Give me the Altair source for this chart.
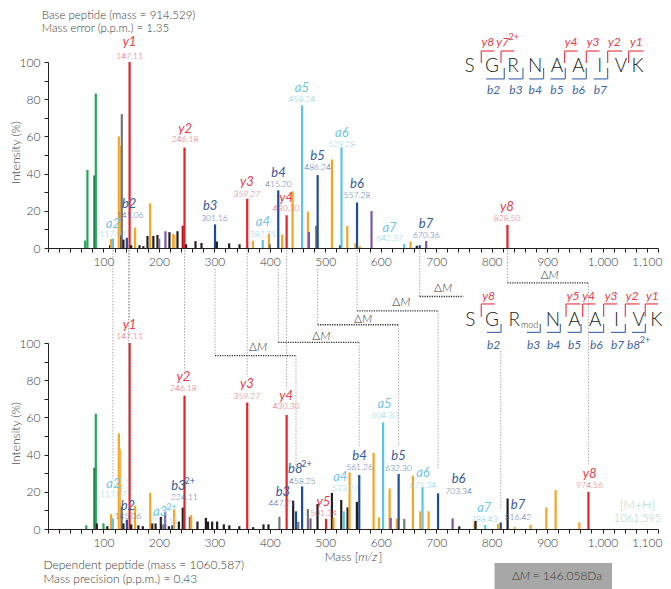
import altair as alt
import pandas as pd

FONT = "Lato"

# ---------------- peaks: base peptide (top) ----------------
top_mz = [67.0, 71.1, 83.7, 86.2, 112.0, 113.8, 117.07, 127.7, 130.0, 132.3, 133.1, 136.0, 142.2, 147.11, 150.0,
          157.1, 165.0, 172.0, 179.4, 184.2, 190.0, 197.4, 200.5, 211.8, 219.0, 225.7, 228.0, 233.5, 243.0, 246.18,
          249.0, 266.0, 276.8, 301.16, 304.5, 326.7, 345.4, 359.27, 369.5, 387.21, 398.3, 400.0, 415.20, 422.3,
          430.30, 441.0, 458.24, 468.7, 470.5, 483.7, 486.24, 512.0, 527.0, 529.28, 539.6, 554.6, 557.28, 562.0,
          583.4, 642.37, 653.8, 665.0, 670.36, 682.0, 828.50]
top_int = [4, 42, 39, 83, 1.5, 4.8, 5, 60, 55, 7, 72, 4.5, 5.5, 100, 1.5,
           11, 1.5, 1, 6.5, 24, 6.5, 7, 5, 9, 8.5, 7.5, 7, 9, 12, 54,
           2, 3.7, 2.7, 12.7, 3.5, 2.5, 2, 26.5, 3.8, 4.3, 7.8, 2, 31, 7.2,
           17.6, 30.5, 76.7, 19.6, 8.6, 12, 39.2, 47.6, 1.5, 54.1, 11.8, 2.5, 24.5, 1,
           19.9, 2.3, 3.5, 1.2, 1.5, 3.8, 12.4]
top_cls = ["gr", "gr", "dg", "gr", "bk", "or", "a", "or", "or2", "bk", "gy", "bk", "b", "y", "bk",
           "or", "bk", "bk", "bk", "or", "bk", "bk", "gy", "pu", "bk", "or", "or2", "bk", "yd", "y",
           "bk", "bk", "bk", "b", "bk", "bk", "bk", "y", "or", "a", "or", "gy", "b", "or",
           "y", "or", "a", "or", "pu", "gy", "b", "or", "bk", "a", "or", "or", "b", "or",
           "pu", "a", "or", "bk", "b", "pu", "y"]

# ---------------- peaks: dependent peptide (bottom) ----------------
bot_mz = [69.0, 83.7, 86.2, 88.0, 100.0, 107.0, 113.8, 117.07, 127.7, 130.0, 133.0, 136.0, 142.2, 147.11, 150.0,
          157.0, 163.0, 171.0, 184.3, 188.0, 194.0, 203.5, 208.0, 211.3, 218.0, 224.1, 227.5, 236.0, 243.0, 246.18,
          255.8, 258.2, 269.5, 284.7, 288.6, 296.0, 305.0, 317.0, 327.0, 345.0, 359.27, 370.0, 388.6, 397.6, 417.3,
          430.30, 442.1, 447.21, 451.2, 458.25, 468.7, 473.4, 486.0, 501.34, 512.0, 514.9, 528.8, 533.27, 540.2,
          543.8, 557.0, 561.26, 587.1, 596.8, 604.30, 616.0, 618.0, 629.0, 632.30, 642.5, 658.0, 671.3, 675.34,
          686.3, 703.34, 729.6, 741.7, 769.3, 771.0, 788.43, 811.5, 816.42, 828.8, 841.4, 870.3, 898.6, 915.4,
          958.2, 974.56]
bot_int = [2, 33, 62, 3, 3, 1.5, 8, 5.7, 51.4, 43, 12, 3, 5, 100, 2.5,
           12.5, 2, 1.5, 19.5, 3, 3, 6.5, 2.5, 9, 1.5, 2, 10.5, 4, 11.5, 71.7,
           6.5, 7.5, 4, 6, 4, 4, 4, 2.5, 2, 1.5, 68, 1, 2.5, 2.5, 6.6,
           61.3, 15.2, 9.5, 3.9, 22.9, 10.7, 5.7, 13.4, 5.4, 19.4, 6.2, 15.6, 9.5, 11.6,
           30.4, 14.6, 29, 40.9, 6.2, 57.3, 21.8, 6, 5.6, 29.6, 5.4, 28.7, 9.5, 22.4,
           9.5, 19.2, 5.7, 1.4, 3.9, 4.4, 2.2, 2.6, 3.5, 16.4, 1, 2.2, 11.6, 20.9,
           3.6, 20]
bot_cls = ["gr", "dg", "gr", "bk", "gr", "bk", "or", "a", "or", "or2", "gy", "bk", "b", "y", "bk",
           "or", "bk", "bk", "or", "bk", "bk", "bk", "gy", "pu", "bk", "b", "or", "bk", "bk", "y",
           "pu", "or", "bk", "bk", "bk", "bk", "bk", "bk", "bk", "bk", "y", "bk", "bk", "bk", "gy",
           "y", "bk", "b", "gy", "b", "gy", "pu", "bk", "y", "bk", "or", "bk", "a", "bk",
           "or", "bk", "b", "or", "or", "a", "or", "pu", "or", "b", "gy", "or", "or", "a",
           "or", "b", "pu", "bk", "or", "bk", "a", "or", "b", "bk", "or", "or", "or", "or",
           "or", "y"]

peak_classes = ["y", "yd", "b", "a", "or", "or2", "gr", "dg", "pu", "gy", "bk"]
peak_colors = ["#e3232a", "#a3191e", "#1f4c97", "#5cc4e8", "#f5a524", "#f2b552",
               "#24a55c", "#16793f", "#7b57a6", "#767676", "#231f20"]

# ---------------- fragment-ion labels ----------------
top_ions = ["y1", "y2", "a2", "b2", "b3", "y3", "a4", "b4", "y4", "a5", "b5", "a6", "b6", "a7", "b7", "y8"]
top_sup = [""] * 16
top_vals = ["147.11", "246.18", "117.07", "145.06", "301.16", "359.27", "387.21", "415.20", "430.30",
            "458.24", "486.24", "529.28", "557.28", "642.37", "670.36", "828.50"]
top_ion_x = [147.0, 247.3, 116.9, 146.3, 292.4, 358.6, 387.5, 415.6, 429.5, 457.9, 486.0, 530.0, 557.1, 615.9, 681.6, 827.7]
top_val_x = [147.0, 247.3, 116.9, 148.1, 300.2, 358.6, 387.5, 415.6, 429.5, 457.9, 486.0, 530.0, 557.1, 615.9, 682.1, 827.7]
top_ion_y = [111.0, 64.1, 13.1, 23.7, 22.7, 35.5, 14.1, 40.5, 27.0, 85.9, 49.5, 62.0, 34.2, 10.9, 13.1, 22.0]
top_val_y = [103.3, 58.6, 7.4, 17.5, 16.0, 28.9, 7.4, 34.6, 21.7, 80.3, 43.7, 56.1, 28.3, 5.2, 6.8, 16.1]

bot_ions = ["y1", "y2", "y3", "y4", "a2", "b2", "a3", "b3", "b3", "b8", "y5", "a4", "b4", "a5", "b5", "a6",
            "b6", "a7", "b7", "y8"]
bot_sup = ["", "", "", "", "", "", "2+", "2+", "", "2+", "", "", "", "", "", "", "", "", "", ""]
bot_vals = ["147.11", "246.18", "359.27", "430.30", "117.07", "145.06", "210.11", "224.11", "447.21", "458.25",
            "501.34", "533.27", "561.26", "604.30", "632.30", "675.34", "703.34", "788.43", "816.42", "974.56"]
bot_ion_x = [147.0, 244.1, 358.6, 429.5, 118.0, 144.0, 202.2, 235.2, 423.6, 445.8, 496.8, 527.0, 561.8, 606.9,
             632.1, 676.1, 740.4, 786.7, 847.5, 976.7]
bot_val_x = [147.0, 244.1, 358.6, 429.5, 118.0, 144.0, 211.0, 246.0, 421.8, 458.4, 496.8, 536.0, 561.8, 606.9,
             632.1, 676.1, 740.4, 786.7, 847.5, 976.7]
bot_ion_y = [109.8, 81.5, 78.0, 71.7, 24.2, 12.5, 8.9, 23.3, 20.1, 32.3, 14.3, 27.7, 39.4, 67.2, 39.0, 29.9,
             26.9, 11.1, 12.9, 29.6]
bot_val_y = [103.9, 75.8, 71.7, 66.1, 18.8, 7.2, 4.5, 17.0, 13.8, 26.0, 8.4, 21.8, 33.1, 61.3, 32.6, 23.8,
             20.6, 5.4, 6.6, 23.7]

ion_colors = {"y": "#e63c47", "b": "#35599f", "a": "#6fc6e8"}
val_colors = {"y": "#ee5f69", "b": "#4d6dac", "a": "#85cfec"}

# ---------------- peptide sequences ----------------
top_seq = ["S", "G", "R", "N", "A", "A", "I", "V", "K"]
top_seq_x = [760.2, 800.6, 838.5, 878.7, 917.9, 956.8, 994.7, 1033.3, 1063.3]
top_ylab = ["y8", "y7", "y4", "y3", "y2", "y1"]
top_ylab_sup = ["", "2+", "", "", "", ""]
top_ylab_x = [793.4, 819.7, 943.1, 982.8, 1021.3, 1061.0]
top_yb_v = [781.3, 816.9, 931.6, 970.7, 1009.2, 1047.0]
top_yb_end = [804.8, 840.9, 955.0, 994.7, 1035.1, 1074.1]
top_blab = ["b2", "b3", "b4", "b5", "b6", "b7"]
top_blab_x = [803.5, 843.9, 878.7, 917.9, 956.8, 996.0]
top_bb_start = [790.3, 830.6, 867.9, 905.8, 944.9, 983.9]
top_bb_v = [822.8, 856.5, 893.7, 932.8, 970.7, 1009.2]

bot_seq = ["S", "G", "R", "N", "A", "A", "I", "V", "K"]
bot_seq_x = [761.5, 800.6, 840.9, 910.7, 949.6, 987.0, 1024.9, 1065.1, 1097.0]
bot_ylab = ["y8", "y5", "y4", "y3", "y2", "y1"]
bot_ylab_x = [794.5, 946.7, 974.9, 1015.3, 1053.2, 1090.0]
bot_yb_v = [781.3, 934.1, 964.1, 1001.9, 1041.1, 1077.0]
bot_yb_end = [805.3, 959.9, 987.0, 1026.1, 1066.9, 1100.0]
bot_blab = ["b2", "b3", "b4", "b5", "b6", "b7", "b8"]
bot_blab_sup = ["", "", "", "", "", "", "2+"]
bot_blab_x = [803.5, 875.7, 911.8, 949.6, 988.8, 1027.2, 1056.1]
bot_bb_start = [791.6, 863.8, 899.9, 937.0, 974.9, 1015.3, 1053.2]
bot_bb_v = [816.9, 887.8, 923.9, 961.2, 1001.9, 1041.1, 1077.2]

# ---------------- mass-shift connectors ----------------
vline_mz = [117.07, 145.06, 147.11, 246.18, 359.27, 430.30, 301.16, 415.20, 486.24, 557.28, 670.36, 828.50,
            447.21, 561.26, 632.30, 703.34, 816.42, 974.56]
vline_from = [150, 150, 150, 150, 150, 150, 140, 140, 140, 150, 150, 150,
              93.2, 100.3, 109.8, 117.3, 95.8, 132.3]
vline_to = [27.0, 17.9, 112.5, 85.1, 81.9, 75.4, 93.2, 100.3, 109.8, 117.3, 125.0, 132.3,
            32.4, 44.8, 44.8, 32.4, 10.9, 34.0]
hline_y = [93.2, 100.3, 109.8, 117.3, 125.0, 132.3]
hline_from = [301.16, 415.20, 486.24, 557.28, 670.36, 828.50]
hline_to = [447.21, 561.26, 632.30, 703.34, 748.9, 974.56]
dm_x = [376.7, 490.9, 566.1, 635.2, 710.4, 902.7]
dm_y = [97.6, 103.9, 112.9, 121.8, 129.6, 136.4]

assert len(top_mz) == len(top_int) == len(top_cls)
assert len(bot_mz) == len(bot_int) == len(bot_cls)

XS = alt.Scale(domain=[0, 1100], nice=False, zero=False)
YS = alt.Scale(domain=[0, 100], nice=False, zero=False)
AXC = "#231f20"
LBC = "#3a3a3a"

x_axis = alt.Axis(values=list(range(0, 1101, 20)),
                  labelExpr="datum.value % 100 == 0 && datum.value > 0 ? format(datum.value, ',') : ''",
                  title=None, grid=False, domainColor=AXC, tickColor=AXC, tickSize=4, tickWidth=1,
                  labelFont=FONT, labelFontSize=12, labelFontWeight=300, labelColor=LBC, labelPadding=4,
                  labelOverlap=False, labelFlush=True, labelFlushOffset=4)
y_axis = alt.Axis(values=list(range(0, 101, 10)),
                  labelExpr="datum.value % 20 == 0 ? datum.value : ''",
                  title="Intensity (%)", titleX=-33, titleY=90, titleAlign="center", titleBaseline="middle",
                  titleFont=FONT, titleFontSize=12, titleFontWeight=300, titleColor=LBC,
                  grid=False, domainColor=AXC, tickColor=AXC, tickSize=4, tickWidth=1,
                  labelFont=FONT, labelFontSize=12, labelFontWeight=300, labelColor=LBC, labelPadding=4,
                  labelOverlap=False)


def peaks(mz, inten, cls):
    df = pd.DataFrame({"mz": mz, "inten": inten, "cls": cls, "base": 0})
    return alt.Chart(df).mark_rule(strokeWidth=2.2, strokeCap="butt").encode(
        x=alt.X("mz:Q", scale=XS, axis=x_axis),
        y=alt.Y("inten:Q", scale=YS, axis=y_axis),
        y2="base:Q",
        color=alt.Color("cls:N", scale=alt.Scale(domain=peak_classes, range=peak_colors), legend=None),
    )


def texts(df, x, y, t, c, size, italic=False, align="center", dx=0, dy=0, weight=400):
    return alt.Chart(df).mark_text(
        font=FONT, fontSize=size, fontStyle="italic" if italic else "normal", fontWeight=weight,
        align=align, baseline="middle", dx=dx, dy=dy,
    ).encode(
        x=alt.X(f"{x}:Q", scale=XS, axis=x_axis),
        y=alt.Y(f"{y}:Q", scale=YS, axis=y_axis),
        text=alt.Text(f"{t}:N"),
        color=alt.Color(f"{c}:N", scale=None),
    )


def segs(df, width, dash=None, opacity=1.0):
    kw = dict(strokeWidth=width, opacity=opacity)
    if dash:
        kw["strokeDash"] = dash
    return alt.Chart(df).mark_rule(**kw).encode(
        x=alt.X("x1:Q", scale=XS, axis=x_axis), x2="x2:Q",
        y=alt.Y("y1:Q", scale=YS, axis=y_axis), y2="y2:Q",
        color=alt.Color("c:N", scale=None),
    )


def ion_layers(ions, sups, vals, ix, vx, iy, vy):
    df = pd.DataFrame({"ion": ions, "sup": sups, "val": vals, "ix": ix, "vx": vx, "iy": iy, "vy": vy})
    df["ic"] = [ion_colors[s[0]] for s in ions]
    df["vc"] = [val_colors[s[0]] for s in ions]
    layers = [texts(df, "ix", "iy", "ion", "ic", 13, italic=True),
              texts(df, "vx", "vy", "val", "vc", 8.5, weight=300)]
    sdf = df[df["sup"] != ""]
    if len(sdf):
        layers.append(texts(sdf, "ix", "iy", "sup", "ic", 9, align="left", dx=6, dy=-5))
    return layers


def brackets(yv, yend, yh_red, yv_red, bstart, bv, yh_blue, yv_blue):
    rows = []
    for v, e in zip(yv, yend):
        rows.append((v, e, yh_red, yh_red, "#e8424c"))
        rows.append((v, v, yh_red, yv_red, "#e8424c"))
    for s, v in zip(bstart, bv):
        rows.append((s, v, yh_blue, yh_blue, "#4a6fb5"))
        rows.append((v, v, yh_blue, yv_blue, "#4a6fb5"))
    return pd.DataFrame(rows, columns=["x1", "x2", "y1", "y2", "c"])


# ================= top panel =================
t_layers = [peaks(top_mz, top_int, top_cls)]
# invisible anchor fixing the top-left corner of the drawing
anchor = pd.DataFrame({"x1": [-72.1], "x2": [-70.0], "y1": [128.5], "y2": [128.5], "c": ["#ffffff"]})
t_layers.append(segs(anchor, 0.5, opacity=0.0))
t_layers += ion_layers(top_ions, top_sup, top_vals, top_ion_x, top_val_x, top_ion_y, top_val_y)
t_seq = pd.DataFrame({"t": top_seq, "x": top_seq_x, "y": 97.8, "c": "#231f20"})
t_layers.append(texts(t_seq, "x", "y", "t", "c", 19, weight=300))
t_yl = pd.DataFrame({"t": top_ylab, "s": top_ylab_sup, "x": top_ylab_x, "y": 110.9, "c": "#e63c47"})
t_layers.append(texts(t_yl, "x", "y", "t", "c", 12, italic=True))
t_layers.append(texts(t_yl[t_yl["s"] != ""], "x", "y", "s", "c", 9, align="left", dx=6, dy=-5))
t_bl = pd.DataFrame({"t": top_blab, "x": top_blab_x, "y": 84.8, "c": "#3f63a8"})
t_layers.append(texts(t_bl, "x", "y", "t", "c", 12, italic=True))
t_layers.append(segs(brackets(top_yb_v, top_yb_end, 105.9, 99.5, top_bb_start, top_bb_v, 90.9, 96.8), 1.2))
t_head = pd.DataFrame({"t": ["Base peptide (mass = 914.529)", "Mass error (p.p.m.) = 1.35"],
                       "x": [-11.2, -11.2], "y": [124.7, 117.8], "c": LBC})
t_layers.append(texts(t_head, "x", "y", "t", "c", 11.5, align="left", weight=300))
top = alt.layer(*t_layers).properties(width=610, height=186)

# ================= bottom panel =================
b_layers = [peaks(bot_mz, bot_int, bot_cls)]
vdf = pd.DataFrame({"x1": vline_mz, "x2": vline_mz, "y1": vline_from, "y2": vline_to, "c": "#a0a0a0"})
b_layers.append(segs(vdf, 0.9, [1.5, 1.5]))
hdf = pd.DataFrame({"x1": hline_from, "x2": hline_to, "y1": hline_y, "y2": hline_y, "c": "#2b2b2b"})
b_layers.append(segs(hdf, 1.3, [1.2, 1.2]))
b_layers += ion_layers(bot_ions, bot_sup, bot_vals, bot_ion_x, bot_val_x, bot_ion_y, bot_val_y)
dmdf = pd.DataFrame({"x": dm_x, "y": dm_y, "d": "\u0394", "m": "M", "c": "#333333"})
b_layers.append(texts(dmdf, "x", "y", "d", "c", 12, align="right", weight=300))
b_layers.append(texts(dmdf, "x", "y", "m", "c", 12, italic=True, align="left", weight=300))
b_seq = pd.DataFrame({"t": bot_seq, "x": bot_seq_x, "y": 112.4, "c": "#231f20"})
b_layers.append(texts(b_seq, "x", "y", "t", "c", 19, weight=300))
b_mod = pd.DataFrame({"t": ["mod"], "x": [868.5], "y": [109.5], "c": ["#231f20"]})
b_layers.append(texts(b_mod, "x", "y", "t", "c", 9, weight=300))
b_yl = pd.DataFrame({"t": bot_ylab, "x": bot_ylab_x, "y": 125.4, "c": "#e63c47"})
b_layers.append(texts(b_yl, "x", "y", "t", "c", 12, italic=True))
b_bl = pd.DataFrame({"t": bot_blab, "s": bot_blab_sup, "x": bot_blab_x, "y": 99.1, "c": "#3f63a8"})
b_layers.append(texts(b_bl, "x", "y", "t", "c", 12, italic=True))
b_layers.append(texts(b_bl[b_bl["s"] != ""], "x", "y", "s", "c", 9, align="left", dx=6, dy=-5))
b_layers.append(segs(brackets(bot_yb_v, bot_yb_end, 121.0, 114.1, bot_bb_start, bot_bb_v, 105.7, 110.2), 1.2))
mh = pd.DataFrame({"t": ["[M+H]", "1061.595"], "x": [1063, 1063], "y": [12.9, 5.4], "c": "#9fd8c1"})
b_layers.append(texts(mh.iloc[[0]], "x", "y", "t", "c", 12.5, weight=300))
b_layers.append(texts(mh.iloc[[1]], "x", "y", "t", "c", 11, weight=300))
foot = pd.DataFrame({"t": ["Dependent peptide (mass = 1060.587)", "Mass precision (p.p.m.) = 0.43"],
                     "x": [-8.3, -8.3], "y": [-19.2, -26.9], "c": LBC})
b_layers.append(texts(foot, "x", "y", "t", "c", 12, align="left", weight=300))
xt = pd.DataFrame({"t": ["Mass [", "m/z", "]"], "x": [559.4, 559.4, 596.4], "y": -15.3, "c": LBC})
b_layers.append(texts(xt.iloc[[0]], "x", "y", "t", "c", 12, align="right", weight=300))
b_layers.append(texts(xt.iloc[[1]], "x", "y", "t", "c", 12, italic=True, align="left", weight=300))
b_layers.append(texts(xt.iloc[[2]], "x", "y", "t", "c", 12, align="left", weight=300))
box = pd.DataFrame({"x1": [805.2], "x2": [1017.1], "y1": [-18.3], "y2": [-32.3]})
b_layers.append(alt.Chart(box).mark_rect(color="#a7a7a7").encode(
    x=alt.X("x1:Q", scale=XS, axis=x_axis), x2="x2:Q",
    y=alt.Y("y1:Q", scale=YS, axis=y_axis), y2="y2:Q"))
bt = pd.DataFrame({"t": ["\u0394", "M", "= 146.058Da"], "x": [850.9, 850.9, 873.8], "y": -25.3, "c": "#3a3a3a"})
b_layers.append(texts(bt.iloc[[0]], "x", "y", "t", "c", 12, align="right", weight=300))
b_layers.append(texts(bt.iloc[[1]], "x", "y", "t", "c", 12, italic=True, align="left", weight=300))
b_layers.append(texts(bt.iloc[[2]], "x", "y", "t", "c", 12, align="left", weight=300))
bottom = alt.layer(*b_layers).properties(width=610, height=186)

chart = alt.vconcat(top, bottom, spacing=95, bounds="flush").properties(
    padding=0,
).configure_view(stroke=None)

chart.save("out.html", embed_options={"renderer": "svg", "actions": False})
